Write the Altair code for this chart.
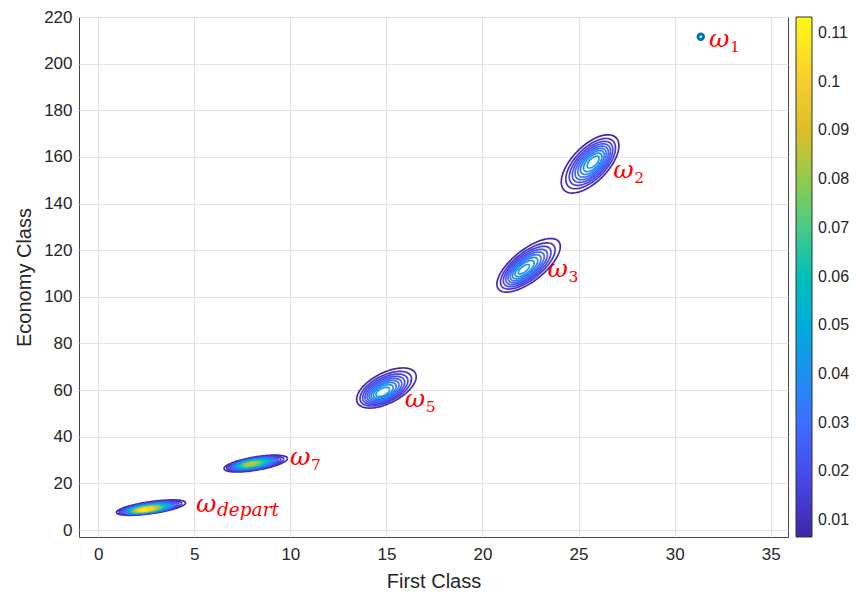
import numpy as np
import pandas as pd
import altair as alt

# ---- cluster parameters (data units) ----
names = ["depart", "7", "5", "3", "2"]
outer_cx = [2.75, 8.2, 15.0, 22.4, 25.6]       # centre of outermost contour
outer_cy = [9.6, 28.5, 60.9, 113.5, 157.0]
peak_x = [2.4, 7.9, 14.75, 22.1, 25.8]          # location of density peak
peak_y = [8.6, 28.3, 58.7, 111.5, 158.0]
half_x = [1.8, 1.65, 1.55, 1.65, 1.5]           # half extent of outer contour
half_y = [3.3, 3.6, 8.6, 11.5, 12.5]
corr = [0.62, 0.60, 0.56, 0.70, 0.62]
peak_val = [0.113, 0.088, 0.048, 0.046, 0.047]

level_start = 0.0075
level_step = 0.0045

# single point for omega_1
pt_x = [31.36]
pt_y = [211.5]

# labels
lab_main = ["ω", "ω", "ω", "ω", "ω", "ω"]
lab_sub = ["1", "2", "3", "5", "7", "depart"]
lab_x = [31.84, 26.86, 23.43, 16.0, 10.03, 5.14]
lab_y = [207.1, 150.9, 108.5, 52.7, 27.9, 7.7]

x_ticks = [0, 5, 10, 15, 20, 25, 30, 35]
y_ticks = [0, 20, 40, 60, 80, 100, 120, 140, 160, 180, 200, 220]
cbar_ticks = [0.01, 0.02, 0.03, 0.04, 0.05, 0.06, 0.07, 0.08, 0.09, 0.10, 0.11]
cbar_min, cbar_max = 0.0065, 0.1133
parula = ["#3E26A8", "#4747EB", "#3E6FFF", "#2796EB", "#08B5D0",
          "#31C69F", "#81CC59", "#DCBD29", "#FCCF30", "#F9FB14"]

# ---- build contour rings (Gaussian-shaped nested ellipses) ----
theta = np.linspace(0, 2 * np.pi, 91)
rows = []
for i, nm in enumerate(names):
    P = peak_val[i]
    levels = np.arange(level_start, P, level_step)
    base = np.log(P / level_start)
    for j, L in enumerate(levels):
        s = np.sqrt(np.log(P / L) / base)
        ccx = peak_x[i] + s * (outer_cx[i] - peak_x[i])
        ccy = peak_y[i] + s * (outer_cy[i] - peak_y[i])
        r = corr[i]
        for k, t in enumerate(theta):
            rows.append({
                "ring": f"{i}-{j:03d}",
                "level": float(L),
                "k": k,
                "x": ccx + s * half_x[i] * np.cos(t),
                "y": ccy + s * half_y[i] * (r * np.cos(t) + np.sqrt(1 - r * r) * np.sin(t)),
            })
contours = pd.DataFrame(rows)

labels = pd.DataFrame({"main": lab_main, "sub": lab_sub, "x": lab_x, "y": lab_y})
labels["italic"] = labels["sub"].str.isalpha()
point = pd.DataFrame({"x": pt_x, "y": pt_y})

dom = list(np.linspace(cbar_min, cbar_max, len(parula)))

xscale = alt.Scale(domain=[-1, 35.9], nice=False, zero=False)
yscale = alt.Scale(domain=[-3, 220], nice=False, zero=False)

xenc = alt.X("x:Q", scale=xscale, title="First Class",
             axis=alt.Axis(values=x_ticks, grid=True, tickSize=0, labelPadding=9,
                           titlePadding=9, domain=False))
yenc = alt.Y("y:Q", scale=yscale, title="Economy Class",
             axis=alt.Axis(values=y_ticks, grid=True, tickSize=0, labelPadding=7,
                           titlePadding=9, domain=False))

lines = alt.Chart(contours).mark_line(strokeWidth=1.7, interpolate="linear").encode(
    x=xenc,
    y=yenc,
    detail="ring:N",
    order="k:Q",
    color=alt.Color("level:Q",
                    scale=alt.Scale(domain=dom, range=parula),
                    legend=alt.Legend(orient="none", legendX=717, legendY=0,
                                      direction="vertical", title=None,
                                      gradientLength=520, gradientThickness=16,
                                      values=cbar_ticks, format=".2~f",
                                      labelFontSize=16, labelOffset=6,
                                      labelOverlap=False,
                                      gradientStrokeColor="#333333",
                                      gradientStrokeWidth=1)),
)

dot = alt.Chart(point).mark_point(shape="circle", filled=False, size=30,
                                  strokeWidth=3, color="#0072BD", opacity=1).encode(
    x=alt.X("x:Q", scale=xscale), y=alt.Y("y:Q", scale=yscale))

main_txt = alt.Chart(labels).mark_text(font="DejaVu Serif", fontStyle="italic",
                                       fontSize=25, color="#FF0000", align="left",
                                       baseline="alphabetic", dx=-1).encode(
    x=alt.X("x:Q", scale=xscale), y=alt.Y("y:Q", scale=yscale), text="main:N")

sub_num = alt.Chart(labels).transform_filter("!datum.italic").mark_text(
    font="DejaVu Serif", fontSize=15.5, color="#FF0000", align="left",
    baseline="alphabetic", dx=20, dy=5).encode(
    x=alt.X("x:Q", scale=xscale), y=alt.Y("y:Q", scale=yscale), text="sub:N")

sub_word = alt.Chart(labels).transform_filter("datum.italic").mark_text(
    font="DejaVu Serif", fontStyle="italic", fontSize=18.5, color="#FF0000",
    align="left", baseline="alphabetic", dx=20, dy=4).encode(
    x=alt.X("x:Q", scale=xscale), y=alt.Y("y:Q", scale=yscale), text="sub:N")

chart = alt.layer(lines, dot, main_txt, sub_num, sub_word).properties(
    width=709, height=520,
    autosize=alt.AutoSizeParams(type="none"),
    padding={"left": 71, "top": 9, "right": 61, "bottom": 58},
).configure_view(stroke="#444444", strokeWidth=1).configure_axis(
    labelFont="Liberation Sans", titleFont="Liberation Sans",
    labelFontSize=17, titleFontSize=20, labelColor="#262626", titleColor="#262626",
    titleFontWeight="normal", gridColor="#E3E3E3", gridWidth=1,
).configure_legend(labelFont="Liberation Sans", labelColor="#262626")

chart.save("out.html", embed_options={"renderer": "svg", "actions": False})
